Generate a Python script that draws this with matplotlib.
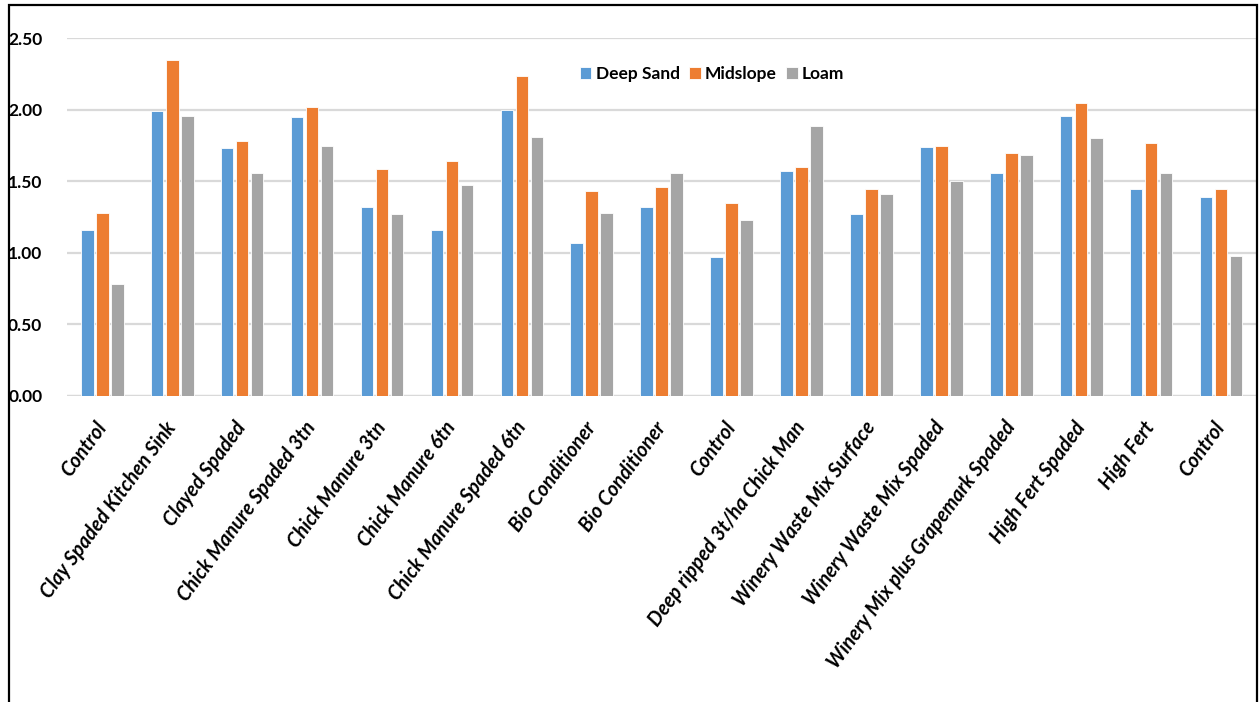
import matplotlib
matplotlib.use("Agg")
import matplotlib.pyplot as plt
from matplotlib.patches import Rectangle
import numpy as np

# Treatments along the x axis
treatments = [
    "Control", "Clay Spaded Kitchen Sink", "Clayed Spaded",
    "Chick Manure Spaded 3tn", "Chick Manure 3tn", "Chick Manure 6tn",
    "Chick Manure Spaded 6tn", "Bio Conditioner", "Bio Conditioner",
    "Control", "Deep ripped 3t/ha Chick Man", "Winery Waste Mix Surface",
    "Winery Waste Mix Spaded", "Winery Mix plus Grapemark Spaded",
    "High Fert Spaded", "High Fert", "Control",
]

# Yield (t/ha) per soil type
deep_sand = [1.16, 1.99, 1.73, 1.95, 1.32, 1.16, 2.00, 1.07, 1.32,
             0.97, 1.57, 1.27, 1.74, 1.56, 1.96, 1.45, 1.39]
midslope = [1.28, 2.35, 1.78, 2.02, 1.59, 1.64, 2.24, 1.43, 1.46,
            1.35, 1.60, 1.45, 1.75, 1.70, 2.05, 1.77, 1.45]
loam = [0.78, 1.96, 1.56, 1.75, 1.27, 1.475, 1.81, 1.28, 1.56,
        1.23, 1.89, 1.41, 1.50, 1.685, 1.80, 1.56, 0.98]

series_names = ["Deep Sand", "Midslope", "Loam"]
series_colors = ["#5B9BD5", "#ED7D31", "#A5A5A5"]
y_ticks = [0.0, 0.5, 1.0, 1.5, 2.0, 2.5]

plt.rcParams["font.family"] = ["Lato", "DejaVu Sans"]

fig = plt.figure(figsize=(12.59, 7.02), dpi=100)
ax = fig.add_axes([0.0535, 0.4359, 0.9441, 0.5095])

x = np.arange(len(treatments))
step = 0.215
width = 0.18
for i, (vals, name, col) in enumerate(zip([deep_sand, midslope, loam],
                                           series_names, series_colors)):
    ax.bar(x + (i - 1) * step, vals, width=width, color=col, label=name,
           edgecolor="white", linewidth=0.6, zorder=3)

ax.set_xlim(-0.5, len(treatments) - 0.5)
ax.set_ylim(0, 2.5)
ax.set_yticks(y_ticks)
ax.set_yticklabels([f"{v:.2f}" for v in y_ticks], fontsize=12.5,
                   fontweight="bold")
ax.yaxis.grid(True, color="#D9D9D9", linewidth=1.6, zorder=0)
ax.set_axisbelow(True)
for side in ["top", "right", "left", "bottom"]:
    ax.spines[side].set_visible(False)
ax.axhline(0, color="#D9D9D9", linewidth=1.6, zorder=1)
ax.tick_params(axis="both", length=0)
ax.tick_params(axis="y", pad=18)

ax.set_xticks(x)
ax.set_xticklabels(treatments, fontsize=14.3, fontweight="bold",
                   fontstyle="italic", rotation=53.5, ha="right",
                   va="center", rotation_mode="anchor")
ax.tick_params(axis="x", pad=20)

leg = ax.legend(loc="upper center", bbox_to_anchor=(0.5425, 0.965), ncol=3,
                frameon=False, handlelength=0.65, handleheight=0.7,
                handletextpad=0.25, columnspacing=0.55,
                prop={"size": 12.5, "weight": "bold"})

# Outer frame around the chart
fig.patches.append(Rectangle((0.0072, -0.02), 0.9916, 1.0129,
                             transform=fig.transFigure, fill=False,
                             edgecolor="black", linewidth=1.6))

fig.savefig("out.png", dpi=100)
